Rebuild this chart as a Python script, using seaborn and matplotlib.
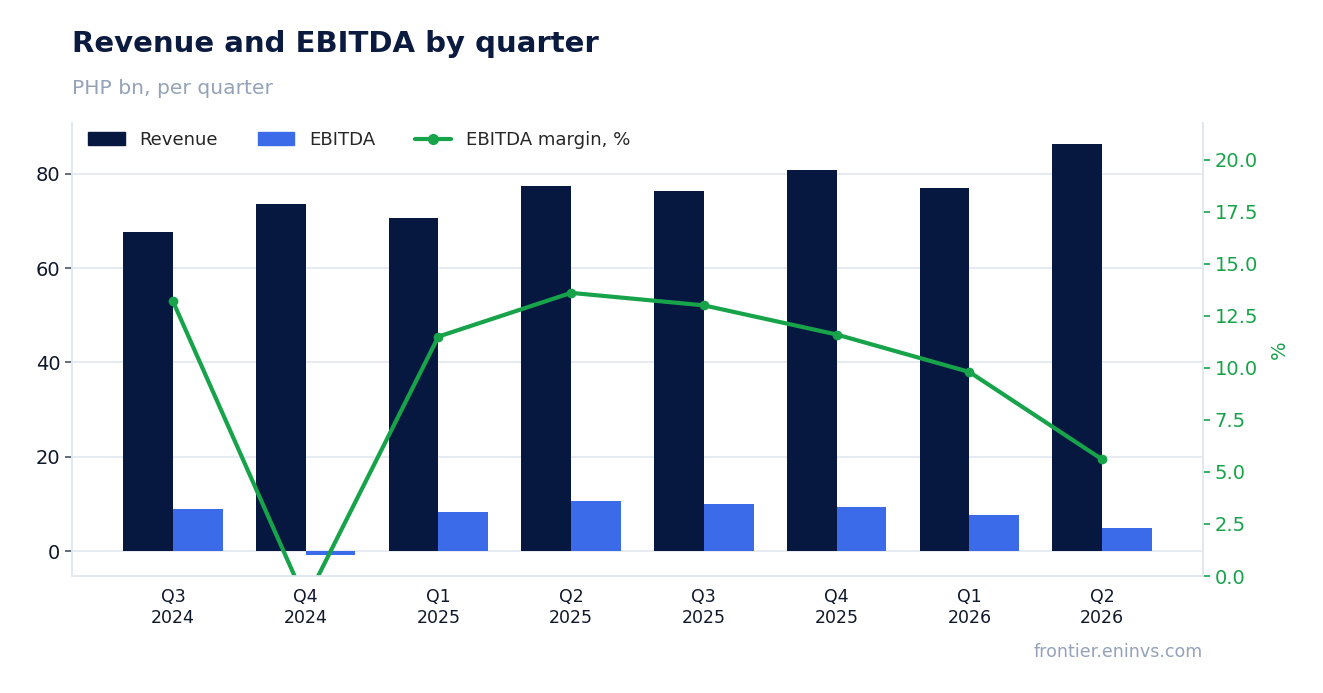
import matplotlib
matplotlib.use("Agg")
import matplotlib.pyplot as plt
from matplotlib.patches import Patch
from matplotlib.lines import Line2D
import seaborn as sns
import pandas as pd

quarters = ["Q3\n2024", "Q4\n2024", "Q1\n2025", "Q2\n2025",
            "Q3\n2025", "Q4\n2025", "Q1\n2026", "Q2\n2026"]
revenue = [67.7, 73.6, 70.7, 77.5, 76.4, 80.8, 77.0, 86.4]
ebitda = [8.9, -0.85, 8.3, 10.6, 10.0, 9.3, 7.6, 4.9]
margin = [13.2, -1.2, 11.5, 13.6, 13.0, 11.6, 9.8, 5.6]

navy = "#061740"
blue = "#3b6be8"
green = "#16a34a"
grid_c = "#e2e8f0"
muted = "#94a3b8"

sns.set_style("white")
plt.rcParams['font.family'] = ['DejaVu Sans']

bars = pd.DataFrame({
    "quarter": quarters * 2,
    "value": revenue + ebitda,
    "series": ["Revenue"] * len(quarters) + ["EBITDA"] * len(quarters),
})
line = pd.DataFrame({"pos": list(range(len(quarters))), "margin": margin})

fig = plt.figure(figsize=(13.23, 6.93), dpi=100)
ax = fig.add_axes([72 / 1323, 1 - 576 / 693, (1203 - 72) / 1323, (576 - 123) / 693])

sns.barplot(data=bars, x="quarter", y="value", hue="series",
            palette={"Revenue": navy, "EBITDA": blue}, width=0.75,
            saturation=1, linewidth=0, ax=ax, legend=False)
ax.set_xlim(-0.76, len(quarters) - 1 + 0.76)
ax.set_ylim(-5.3, 90.8)
ax.set_xlabel("")
ax.set_ylabel("")
ax.yaxis.grid(True, color=grid_c, linewidth=1.2)
ax.set_axisbelow(True)
ax.tick_params(axis="y", labelsize=14, labelcolor="#0f172a", color="#475569", length=5, width=1.2)
ax.tick_params(axis="x", labelsize=12.5, labelcolor="#0f172a", color="#475569", length=5, width=1.2)
ax.set_yticks([0, 20, 40, 60, 80])
for s in ["left", "bottom", "right"]:
    ax.spines[s].set_color(grid_c)
    ax.spines[s].set_linewidth(1.2)
ax.spines["top"].set_visible(False)

ax2 = ax.twinx()
sns.lineplot(data=line, x="pos", y="margin", color=green, linewidth=3,
             marker="o", markersize=7, markeredgewidth=0, ax=ax2)
ax2.set_ylim(0, max(margin) * 1.6)
ax2.set_xlim(ax.get_xlim())
ax2.set_ylabel("%", color=green, fontsize=14, labelpad=8)
ax2.set_yticks([0, 2.5, 5, 7.5, 10, 12.5, 15, 17.5, 20])
ax2.yaxis.set_major_formatter(matplotlib.ticker.FormatStrFormatter("%.1f"))
ax2.tick_params(axis="y", labelsize=14, colors=green, length=5, width=1.2)
for s in ["left", "bottom", "right"]:
    ax2.spines[s].set_color(grid_c)
    ax2.spines[s].set_linewidth(1.2)
ax2.spines["top"].set_visible(False)

handles = [Patch(color=navy, label="Revenue"),
           Patch(color=blue, label="EBITDA"),
           Line2D([0], [0], color=green, lw=3, marker="o", markersize=7,
                  label="EBITDA margin, %")]
ax.legend(handles=handles, loc="upper left", ncol=3, frameon=False,
          fontsize=13.1, handlelength=2.0, columnspacing=2.2,
          bbox_to_anchor=(0.0, 1.018))

fig.text(72 / 1323, 1 - 44 / 693, "Revenue and EBITDA by quarter",
         fontsize=21, fontweight="bold", color="#0b1a3f", va="center")
fig.text(72 / 1323, 1 - 88 / 693, "PHP bn, per quarter",
         fontsize=14.6, color=muted, va="center")
fig.text(1203 / 1323, 1 - 652 / 693, "frontier.eninvs.com",
         fontsize=12.6, color=muted, ha="right", va="center")

fig.savefig("out.png", dpi=100)
plt.close(fig)
